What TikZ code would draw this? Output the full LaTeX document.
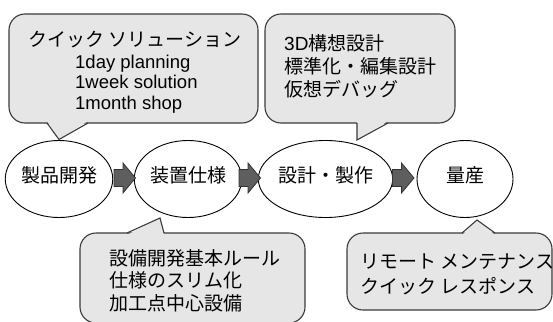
\documentclass[tikz,border=0pt]{standalone}
\usepackage{fontspec}
\setmainfont{Liberation Sans}
\newfontfamily\jpf{Noto Sans CJK JP}
\usetikzlibrary{shapes.geometric}
\definecolor{cfill}{HTML}{E6E6E6}
\definecolor{cborder}{HTML}{3A3A3A}
\definecolor{afill}{HTML}{5E5E5E}
\definecolor{aborder}{HTML}{333333}
\begin{document}
\begin{tikzpicture}[x=1pt,y=-1pt,
  stage/.style={ellipse, draw=black, line width=0.9pt, fill=white, inner sep=0pt,
    minimum height=77pt, font=\jpf\fontsize{19}{22}\selectfont,
    text height=0.88em, text depth=0.12em},
  callout/.style={rectangle, rounded corners=16pt, draw=cborder, fill=cfill,
    line width=1.1pt, inner sep=0pt},
  ptrfill/.style={fill=cfill},
  ptrline/.style={draw=cborder, line width=1.1pt, line join=miter},
  jl/.style={anchor=base west, inner sep=0pt, font=\jpf\fontsize{19}{22}\selectfont},
  ll/.style={anchor=base west, inner sep=0pt, font=\fontsize{18.5}{22}\selectfont},
  blockarrow/.pic={\filldraw[draw=aborder, fill=afill, line width=0.8pt]
    (0,-8.5) -- (9,-8.5) -- (9,-15) -- (21.5,0) -- (9,15) -- (9,8.5) -- (0,8.5) -- cycle;}
]
\useasboundingbox (0,0) rectangle (553,321);
\clip (0,0) rectangle (553,321);

% stages
\node[stage, minimum width=95pt]  (s1) at (59,179)   {製品開発};
\node[stage, minimum width=96pt]  (s2) at (188,179)  {装置仕様};
\node[stage, minimum width=125pt] (s3) at (325.5,179) {設計・製作};
\node[stage, minimum width=96pt]  (s4) at (465,179)  {量産};

% block arrows
\pic at (114,178) {blockarrow};
\pic at (239,178) {blockarrow};
\pic at (392.5,178) {blockarrow};

% callout 1
\node[callout, minimum width=249pt, minimum height=109pt] (c1) at (133.5,68.5) {};
\fill[ptrfill] (47,121) -- (59,139.5) -- (88,121) -- cycle;
\draw[ptrline] (47,123) -- (59,139.5) -- (88,123);
\node[anchor=base, inner sep=0pt, font=\jpf\fontsize{19}{22}\selectfont] (t1) at (135,46.7) {クイック ソリューション};
\node[ll] (t2) at (75,68) {1day planning};
\node[ll] (t3) at (75,88.5) {1week solution};
\node[ll] (t4) at (75,109) {1month shop};

% callout 2
\node[callout, minimum width=190pt, minimum height=109pt] (c2) at (360,68.5) {};
\fill[ptrfill] (357,121) -- (357,140) -- (388,121) -- cycle;
\draw[ptrline] (357,123) -- (357,140) -- (388,123);
\node[jl] (u1) at (284,50.4) {\fontspec{Liberation Sans}3D\jpf 構想設計};
\node[jl] (u2) at (284,73.9) {標準化・編集設計};
\node[jl] (u3) at (284,96.4) {仮想デバッグ};

% callout 3
\node[callout, minimum width=225pt, minimum height=90pt] (c3) at (192.5,278) {};
\fill[ptrfill] (127,235) -- (160,218) -- (164,235) -- cycle;
\draw[ptrline] (127,233) -- (160,218) -- (164,233);
\node[jl] (v1) at (109.5,265.7) {設備開発基本ルール};
\node[jl] (v2) at (109.5,287.7) {仕様のスリム化};
\node[jl] (v3) at (109.5,310.7) {加工点中心設備};

% callout 4
\node[callout, minimum width=205pt, minimum height=77pt] (c4) at (449.5,271.5) {};
\fill[ptrfill] (462,235) -- (477,220) -- (495,235) -- cycle;
\draw[ptrline] (462,233) -- (477,220) -- (495,233);
\node[jl] (w1) at (360,268.7) {リモート メンテナンス};
\node[jl] (w2) at (360,293.7) {クイック レスポンス};
\end{tikzpicture}
\end{document}
